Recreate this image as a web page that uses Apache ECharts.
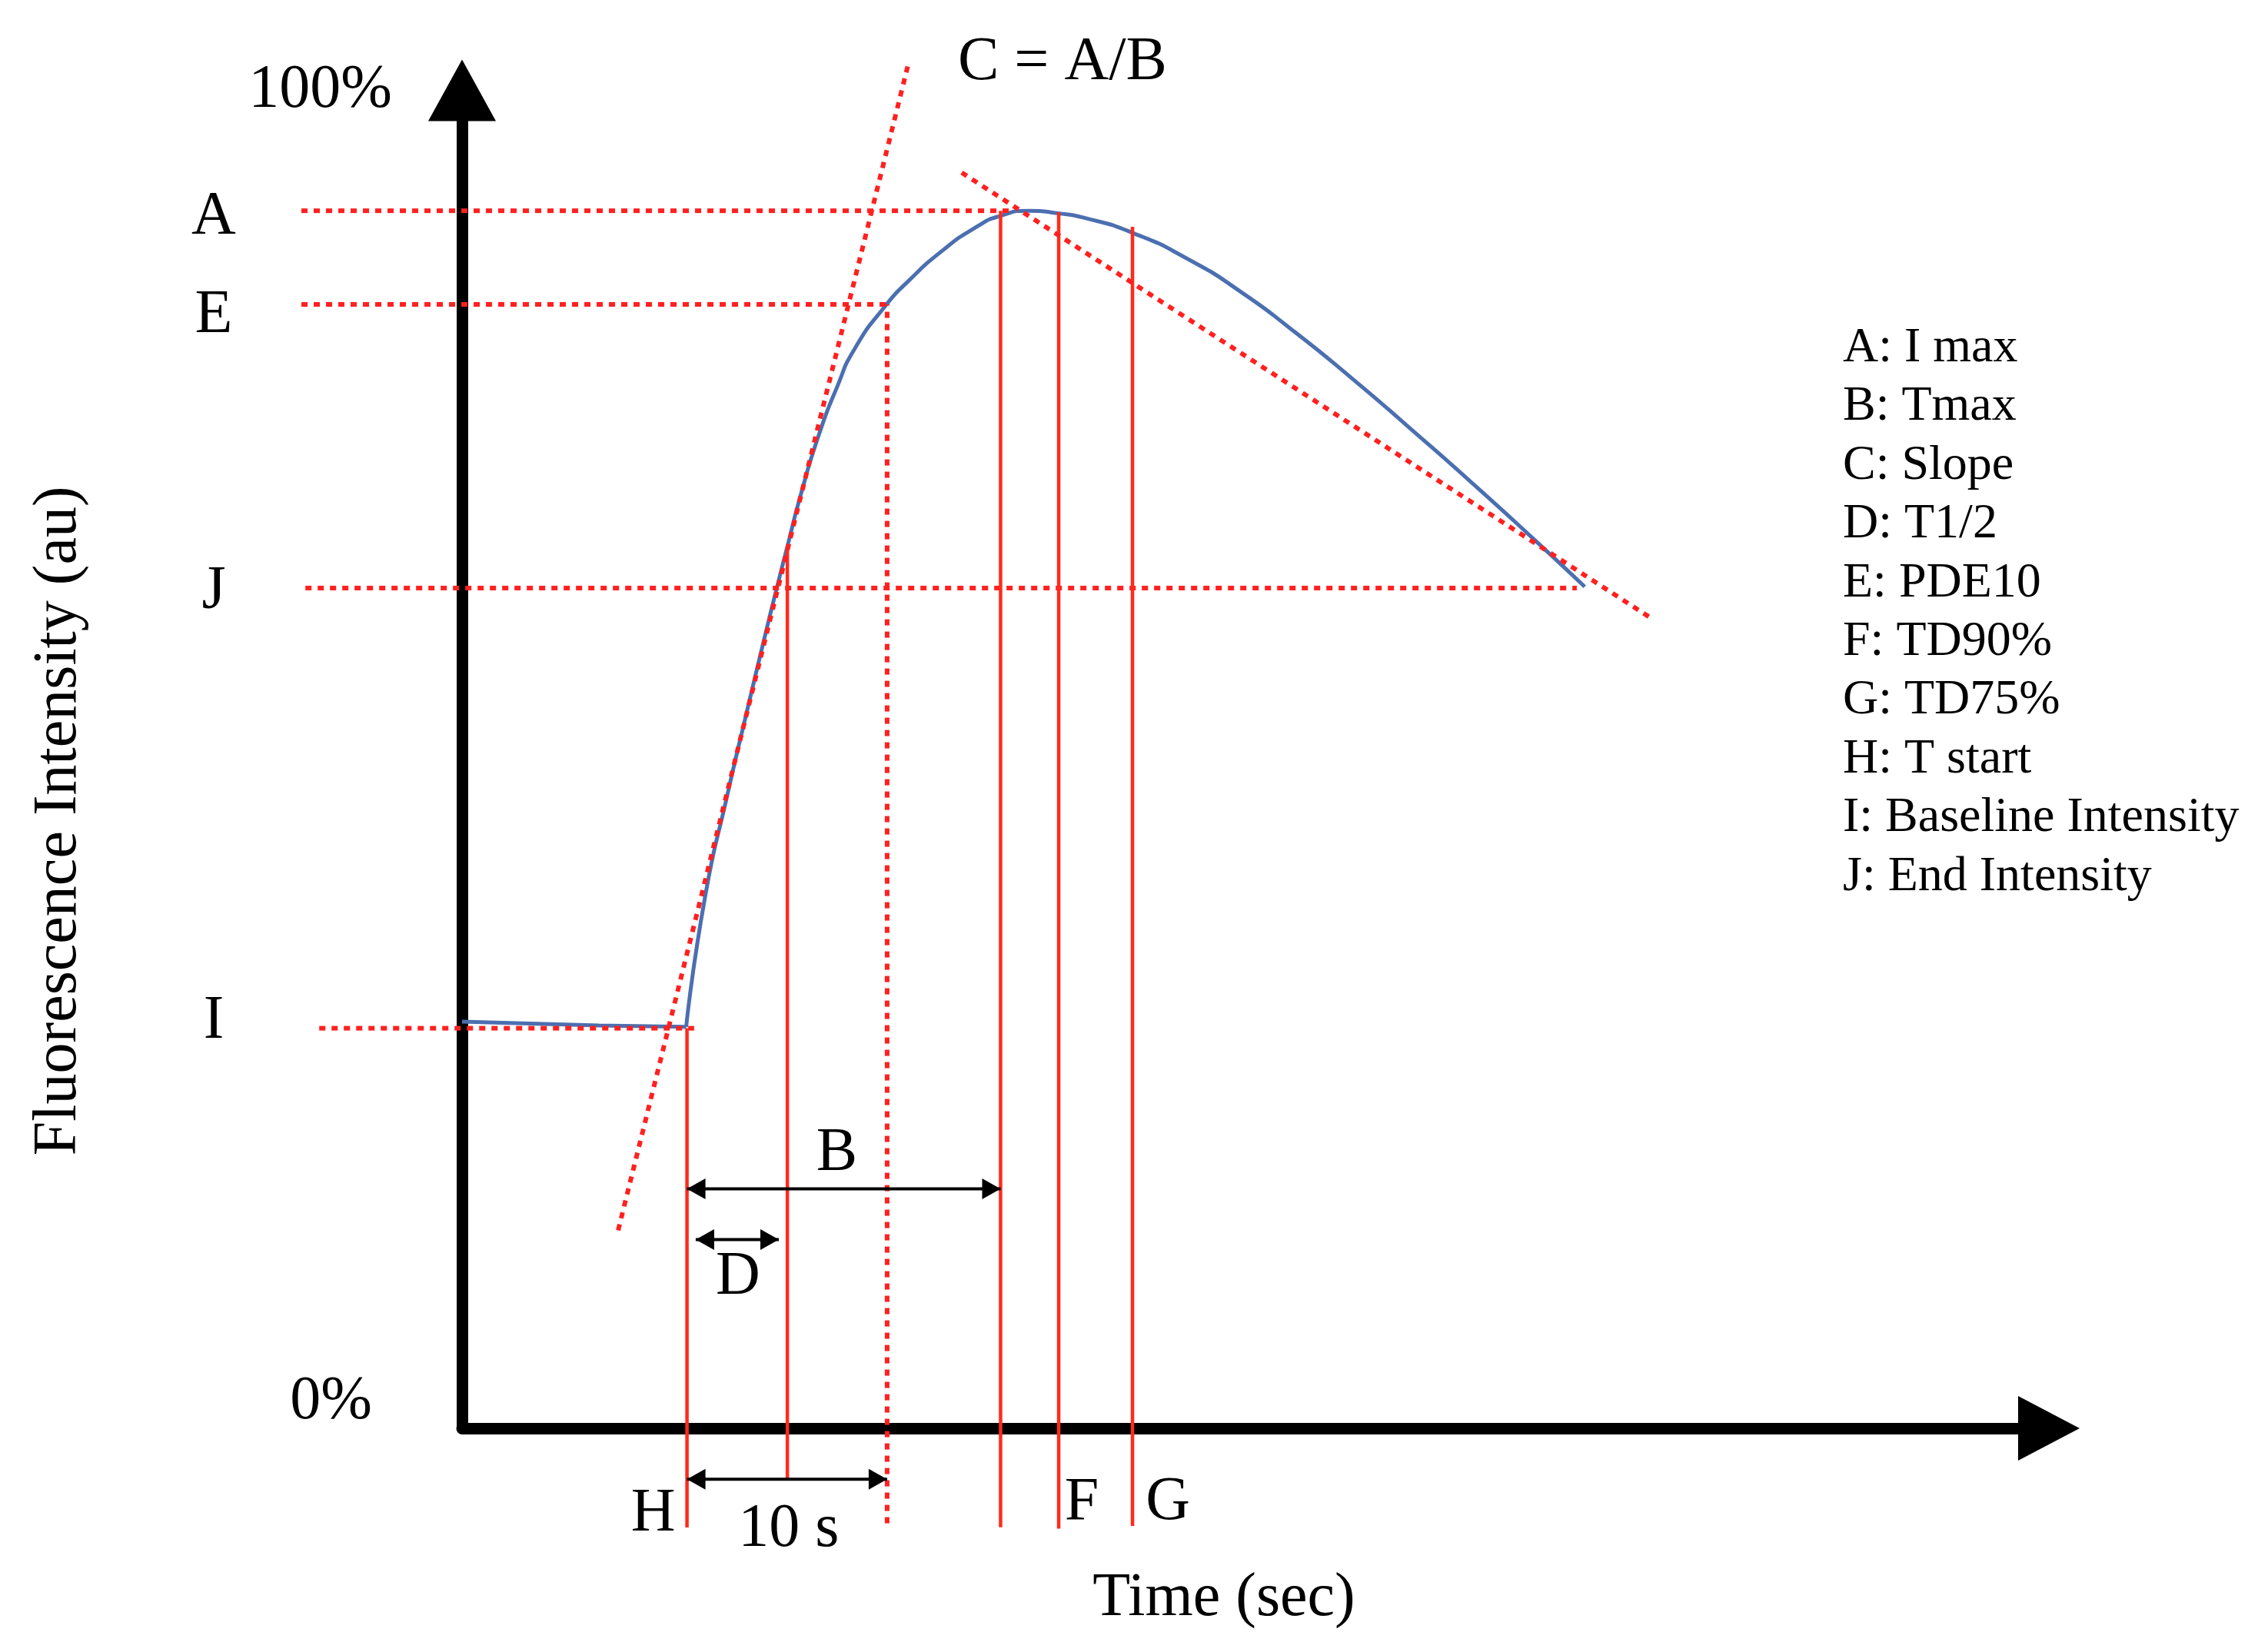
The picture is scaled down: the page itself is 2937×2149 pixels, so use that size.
<!DOCTYPE html>
<html>
<head>
<meta charset="utf-8">
<script src="https://cdn.jsdelivr.net/npm/echarts@6/dist/echarts.min.js"></script>
<style>html,body{margin:0;padding:0;background:#fff}#c{width:2937px;height:2149px}</style>
</head>
<body>
<div id="c"></div>
<script>
// ---------- data (time in s, intensity in %) ----------
const curveTime  = [0, 6.9, 11.3, 12.25, 13.4, 14.3, 15.3, 15.9, 16.4, 17.1, 18.0, 18.9, 19.8, 21.4, 22.4, 24.2, 26.0, 27.1, 28.6, 30.1, 31.3, 33.8, 36.7, 39.3, 41.8, 44.8, 47.9, 51.0, 54.0, 56.6];
const curveValue = [30.4, 30.1, 30.0, 39.7, 47.5, 53.2, 59.4, 63.0, 65.9, 69.9, 74.3, 77.8, 80.7, 84.0, 85.6, 88.0, 89.85, 90.6, 91.0, 90.8, 90.5, 89.35, 87.3, 84.9, 82.15, 78.55, 74.6, 70.55, 66.5, 62.9];

// horizontal reference levels (dotted)
const levelNames     = ['A', 'E', 'J', 'I'];
const levelValues    = [91, 84, 62.8, 29.9];
const levelLineStart = [-8.1, -8.1, -7.9, -7.2];
const levelLineEnd   = [27.6, 21.43, 56.2, 11.7];

// vertical time markers
const markerNames  = ['H', 'D', 'E', 'B', 'F', 'G'];
const markerTimes  = [11.34, 16.4, 21.43, 27.15, 30.08, 33.8];
const markerTop    = [29.9, 65.9, 84, 91, 90.9, 89.8];
const markerBottom = [-7.41, -3.8, -7.1, -7.4, -7.5, -7.3];
const markerDotted = [false, false, true, false, false, false];
const markerLabels = ['H', '', '', '', 'F', 'G'];

// tangent lines
const riseTangentTime   = [7.87, 22.52];
const riseTangentValue  = [14.8, 102.1];
const decayTangentTime  = [25.19, 60.04];
const decayTangentValue = [93.85, 60.46];

// double arrows
const spanNames = ['B', 'D', '10 s'];
const spanFrom  = [11.34, 11.78, 11.34];
const spanTo    = [27.15, 15.97, 21.43];
const spanLevel = [17.9, 14.1, -3.8];

// axis tick labels
const yTopTick = [100];
const yBottomTick = [0];

const keyLines = ['A: I max', 'B: Tmax', 'C: Slope', 'D: T1/2', 'E: PDE10', 'F: TD90%', 'G: TD75%', 'H: T start', 'I: Baseline Intensity', 'J: End Intensity'];

// ---------- styles ----------
const FONT = '"Liberation Serif", "Times New Roman", serif';
const RED = '#ff2b1c', DOT = '#ff2020', BLUE = '#4b6fb0';
const dotted = { color: DOT, width: 6, type: [8, 8], cap: 'butt' };
const solid = { color: RED, width: 4.5 };
const txt = { fontFamily: FONT, fontSize: 80, color: '#000' };

// layout: main grid, and an invisible twin grid that reaches left of the y axis
const G = { left: 601, right: 272, top: 117.5, bottom: 291 };
const X_MAX = 80, X_WIDE_MIN = -8.2;
const pxPerSec = (2937 - G.left - G.right) / X_MAX;

function lineSeries(data, lineStyle, z, wide) {
  const s = { type: 'line', data: data, symbol: 'none', showSymbol: false, clip: false, silent: true,
              smooth: false, lineStyle: lineStyle, z: z, animation: false };
  if (wide) { s.xAxisIndex = 1; s.yAxisIndex = 3; }
  return s;
}

const series = [];
// fluorescence curve: flat baseline, then rise & decay
series.push(lineSeries(curveTime.slice(0, 3).map((t, i) => [t, curveValue[i]]),
  { color: BLUE, width: 5 }, 2));
const rise = lineSeries(curveTime.slice(2).map((t, i) => [t, curveValue[i + 2]]),
  { color: BLUE, width: 5, join: 'round' }, 2);
rise.smooth = 0.6;
series.push(rise);

// horizontal dotted levels (start left of the y axis)
levelValues.forEach((v, i) => {
  series.push(lineSeries([[levelLineStart[i], v], [levelLineEnd[i], v]], dotted, 4, true));
});
// vertical markers
markerTimes.forEach((t, i) => {
  series.push(lineSeries([[t, markerBottom[i]], [t, markerTop[i]]], markerDotted[i] ? dotted : solid, 4));
});
// tangents
series.push(lineSeries(riseTangentTime.map((t, i) => [t, riseTangentValue[i]]), dotted, 5));
series.push(lineSeries(decayTangentTime.map((t, i) => [t, decayTangentValue[i]]), dotted, 5));

// double arrows
const HEAD = [27, 24];
spanFrom.forEach((x1, i) => {
  const y = spanLevel[i];
  series.push({
    type: 'line', clip: false, silent: true, animation: false, z: 6,
    symbol: 'triangle', symbolSize: HEAD, showSymbol: true,
    itemStyle: { color: '#000', opacity: 1 }, lineStyle: { color: '#000', width: 4 },
    data: [
      { value: [x1, y], symbolRotate: 90, symbolOffset: [HEAD[1] / 2, 0] },
      { value: [spanTo[i], y], symbolRotate: -90, symbolOffset: [-HEAD[1] / 2, 0] }
    ]
  });
});

// text annotations anchored on marks
const spanOffsets = [[-9, -45], [1, 49], [2, 66]];
const markerOffsets = { H: [-44, -17], F: [30, -33], G: [46, -30] };
const annot = [];
spanNames.forEach((n, i) => {
  annot.push({ name: n, value: [(spanFrom[i] + spanTo[i]) / 2, spanLevel[i]], label: { offset: spanOffsets[i] } });
});
markerLabels.forEach((n, i) => {
  if (!n) return;
  annot.push({ name: n, value: [markerTimes[i], markerBottom[i]], label: { offset: markerOffsets[n] } });
});
series.push({
  type: 'scatter', clip: false, silent: true, animation: false, z: 7,
  symbol: 'circle', symbolSize: 1, itemStyle: { color: 'rgba(0,0,0,0)', opacity: 1 },
  label: Object.assign({ show: true, formatter: '{b}', position: 'inside', opacity: 1 }, txt),
  data: annot
});

const noAxisBits = { axisTick: { show: false }, splitLine: { show: false } };
// vertical nudges of letter labels (gap line above or below, in px)
const letterGap = { A: [18, 0], E: [30, 0], J: [10, 0], I: [0, 18] };

const option = {
  animation: false,
  backgroundColor: '#fff',
  title: [
    { text: 'C = A/B', left: 1246, top: 42, padding: 0,
      textStyle: Object.assign({ fontWeight: 'normal' }, txt) },
    { text: keyLines.join('\n'), left: 2397, top: 415, padding: 0,
      textStyle: { fontFamily: FONT, fontSize: 64, lineHeight: 76.4, fontWeight: 'normal', color: '#000' } }
  ],
  grid: [
    Object.assign({ containLabel: false, outerBoundsMode: 'none' }, G),
    { left: G.left + X_WIDE_MIN * pxPerSec, right: G.right, top: G.top, bottom: G.bottom,
      containLabel: false, outerBoundsMode: 'none' }
  ],
  xAxis: [
    Object.assign({
      type: 'value', min: 0, max: X_MAX, gridIndex: 0,
      axisLine: { show: true, onZero: false, symbol: ['none', 'triangle'], symbolSize: [84, 80],
                  lineStyle: { color: '#000', width: 15, cap: 'round' } },
      axisLabel: { show: false },
      name: 'Time (sec)', nameLocation: 'middle', nameGap: 182,
      nameTextStyle: Object.assign({ padding: [0, 82, 0, 0] }, txt)
    }, noAxisBits),
    { type: 'value', min: X_WIDE_MIN, max: X_MAX, gridIndex: 1, show: false }
  ],
  yAxis: [
    Object.assign({
      type: 'value', min: 0, max: 100, position: 'left', gridIndex: 0,
      axisLine: { show: true, onZero: false, symbol: ['none', 'triangle'], symbolSize: [88, 80],
                  lineStyle: { color: '#000', width: 15, cap: 'round' } },
      axisLabel: Object.assign({ customValues: yTopTick, formatter: v => v + '%', margin: 91,
                   showMaxLabel: true, showMinLabel: true }, txt),
      name: 'Fluorescence Intensity (au)', nameLocation: 'middle', nameGap: 484, nameRotate: 90,
      nameTextStyle: Object.assign({ padding: [0, 160, 0, 0] }, txt)
    }, noAxisBits),
    Object.assign({
      type: 'value', min: 0, max: 100, position: 'left', gridIndex: 0, axisLine: { show: false },
      axisLabel: Object.assign({ customValues: yBottomTick, margin: 117,
                   formatter: v => '{t|' + v + '%}\n{g| }',
                   rich: { t: { fontFamily: FONT, fontSize: 80, lineHeight: 80, color: '#000' },
                           g: { fontSize: 10, lineHeight: 68 } },
                   showMaxLabel: true, showMinLabel: true }, txt)
    }, noAxisBits),
    Object.assign({
      type: 'value', min: 0, max: 100, position: 'left', gridIndex: 0, axisLine: { show: false },
      axisLabel: Object.assign({ customValues: levelValues, align: 'center', margin: 323,
                   showMaxLabel: true, showMinLabel: true,
                   rich: {
                     t: { fontFamily: FONT, fontSize: 80, lineHeight: 80, color: '#000', align: 'center' },
                     gA: { fontSize: 10, lineHeight: letterGap.A[0] }, gE: { fontSize: 10, lineHeight: letterGap.E[0] },
                     gJ: { fontSize: 10, lineHeight: letterGap.J[0] }, gI: { fontSize: 10, lineHeight: letterGap.I[1] }
                   },
                   formatter: v => {
                     let best = 0;
                     levelValues.forEach((lv, i) => { if (Math.abs(lv - v) < Math.abs(levelValues[best] - v)) best = i; });
                     const n = levelNames[best];
                     const g = letterGap[n];
                     if (g[0]) return '{g' + n + '| }\n{t|' + n + '}';
                     if (g[1]) return '{t|' + n + '}\n{g' + n + '| }';
                     return '{t|' + n + '}';
                   } }, txt)
    }, noAxisBits),
    { type: 'value', min: 0, max: 100, gridIndex: 1, show: false }
  ],
  series: series
};

const chart = echarts.init(document.getElementById('c'));
chart.setOption(option);
</script>
</body>
</html>
